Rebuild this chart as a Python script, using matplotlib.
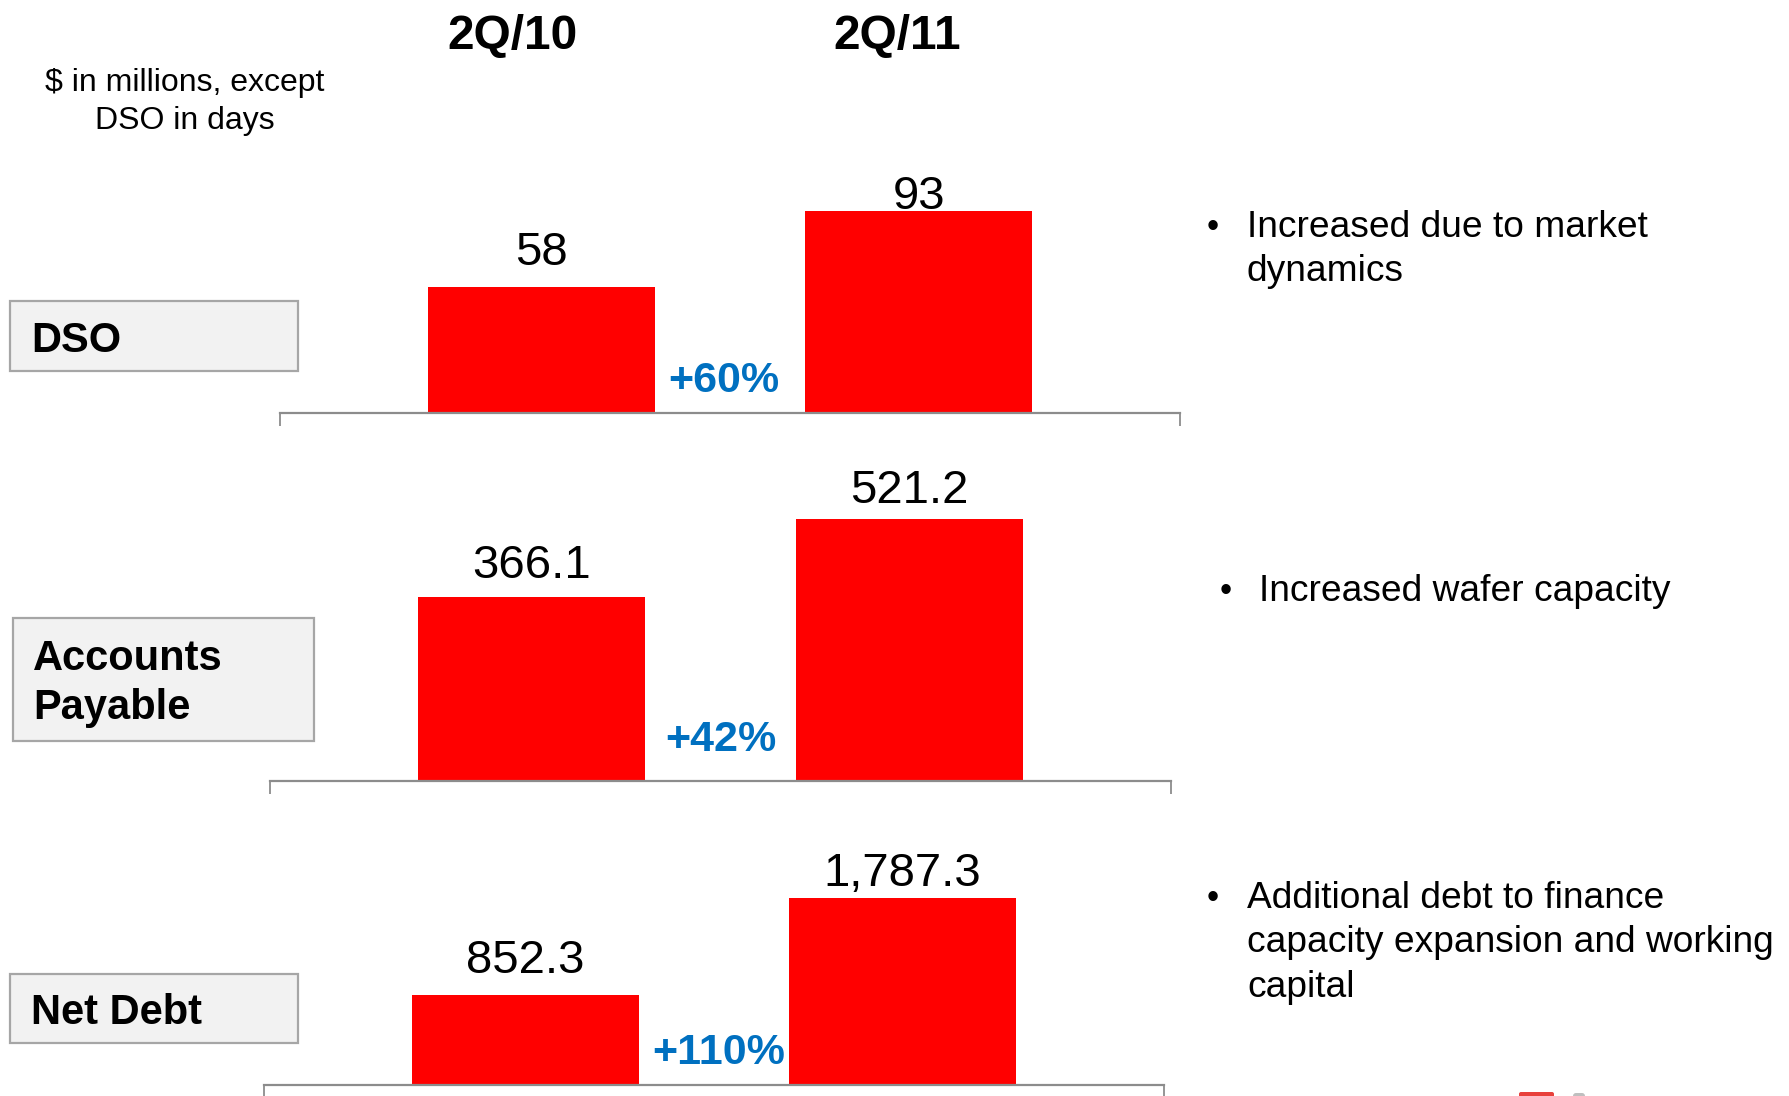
import matplotlib
matplotlib.use("Agg")
import matplotlib.pyplot as plt
from matplotlib.patches import Rectangle, FancyBboxPatch

plt.rcParams['font.family'] = ['Liberation Sans', 'DejaVu Sans']

# ---------------- data ----------------
periods = ["2Q/10", "2Q/11"]
metrics = ["DSO", "Accounts\nPayable", "Net Debt"]
dso = [58, 93]
accounts_payable = [366.1, 521.2]
net_debt = [852.3, 1787.3]
value_labels = [["58", "93"], ["366.1", "521.2"], ["852.3", "1,787.3"]]
growth = ["+60%", "+42%", "+110%"]
comments = [
    ["Increased due to market", "dynamics"],
    ["Increased wafer capacity"],
    ["Additional debt to finance", "capacity expansion and working", "capital"],
]
unit_note = ["$ in millions, except", "DSO in days"]

series = [dso, accounts_payable, net_debt]

# ---------------- layout (pixels) ----------------
W, H, DPI = 1790, 1096, 100
PT = 72.0 / DPI
RED = "#FF0000"
BLUE = "#0070C0"
AXC = "#8C8C8C"

panels = [
    dict(axis_y=412.5, x0=280, x1=1180, scale=2.17, gaps=[22.0, 2.0], pgap=20, pdx=-6,
         box=(10, 301, 288, 70), box_text_x=31, box_base=[352],
         bullet_x=1213, text_x=1247, bases=[237, 281]),
    dict(axis_y=781, x0=270, x1=1171, scale=0.503, gaps=[18.7, 16], pgap=30, pdx=0,
         box=(13, 618, 301, 123), box_text_x=33, box_base=[670, 719],
         bullet_x=1226, text_x=1259, bases=[601]),
    dict(axis_y=1084.5, x0=264, x1=1164, scale=0.1045, gaps=[22.5, 11.5], pgap=20.5, pdx=5,
         box=(10, 974, 288, 69), box_text_x=31, box_base=[1024],
         bullet_x=1213, text_x=1247, bases=[908, 952.5, 997]),
]
XLO, XHI = -0.693, 1.693
BAR_W = 0.602
AXH = 270

fig = plt.figure(figsize=(W / DPI, H / DPI), dpi=DPI)
fig.patch.set_facecolor("white")

# overlay for texts and boxes (pixel coordinates)
ov = fig.add_axes([0, 0, 1, 1])
ov.set_xlim(0, W)
ov.set_ylim(H, 0)
ov.axis("off")

# headers
hdr_x = [513, 897]
for px, lab in zip(hdr_x, periods):
    ov.text(px, 49, lab, ha="center", va="baseline", fontsize=34.5, fontweight="bold", color="black")

for yb, line in zip([91, 129], unit_note):
    ov.text(185, yb, line, ha="center", va="baseline", fontsize=23, color="black")

for i, p in enumerate(panels):
    # left label box
    bx, by, bw, bh = p["box"]
    ov.add_patch(Rectangle((bx, by), bw, bh, facecolor="#F2F2F2", edgecolor="#A6A6A6", lw=1.6))
    for yb, line in zip(p["box_base"], metrics[i].split("\n")):
        ov.text(p["box_text_x"], yb, line, ha="left", va="baseline", fontsize=30,
                fontweight="bold", color="black")

    # bullets
    ov.text(p["bullet_x"], p["bases"][0], "\u2022", ha="center", va="baseline", fontsize=25, color="black")
    for yb, line in zip(p["bases"], comments[i]):
        ov.text(p["text_x"], yb, line, ha="left", va="baseline", fontsize=26.7, color="black")

    # bar panel
    ax = fig.add_axes([p["x0"] / W, 1 - p["axis_y"] / H, (p["x1"] - p["x0"]) / W, AXH / H])
    ax.patch.set_alpha(0)
    vals = series[i]
    ax.bar([0, 1], vals, width=BAR_W, color=RED, zorder=2)
    ax.set_xlim(XLO, XHI)
    ax.set_ylim(0, AXH / p["scale"])
    for s in ["top", "right", "left"]:
        ax.spines[s].set_visible(False)
    ax.spines["bottom"].set_color(AXC)
    ax.spines["bottom"].set_linewidth(1.6)
    ax.spines["bottom"].set_zorder(3)
    ax.set_yticks([])
    ax.set_xticks([XLO, XHI])
    ax.tick_params(axis="x", length=9.5, width=1.3, color=AXC, direction="out", labelbottom=False)

    for j, v in enumerate(vals):
        ax.annotate(value_labels[i][j], xy=(j, v), xytext=(0, p["gaps"][j] * PT),
                    textcoords="offset points", ha="center", va="baseline",
                    fontsize=34, color="black", annotation_clip=False)
    ax.annotate(growth[i], xy=(0.5, 0), xycoords=("data", "axes fraction"),
                xytext=(p["pdx"] * PT, p["pgap"] * PT), textcoords="offset points",
                ha="center", va="baseline", fontsize=31, fontweight="bold", color=BLUE,
                annotation_clip=False)

# cut-off logo fragment at the bottom right
ov.add_patch(FancyBboxPatch((1519, 1092), 35, 10, boxstyle="round,pad=0,rounding_size=2",
                            facecolor="#E8413C", edgecolor="none"))
ov.add_patch(FancyBboxPatch((1573, 1093), 12, 8, boxstyle="round,pad=0,rounding_size=3",
                            facecolor="#BFBFBF", edgecolor="none"))

fig.savefig("out.png", dpi=DPI, facecolor="white")
